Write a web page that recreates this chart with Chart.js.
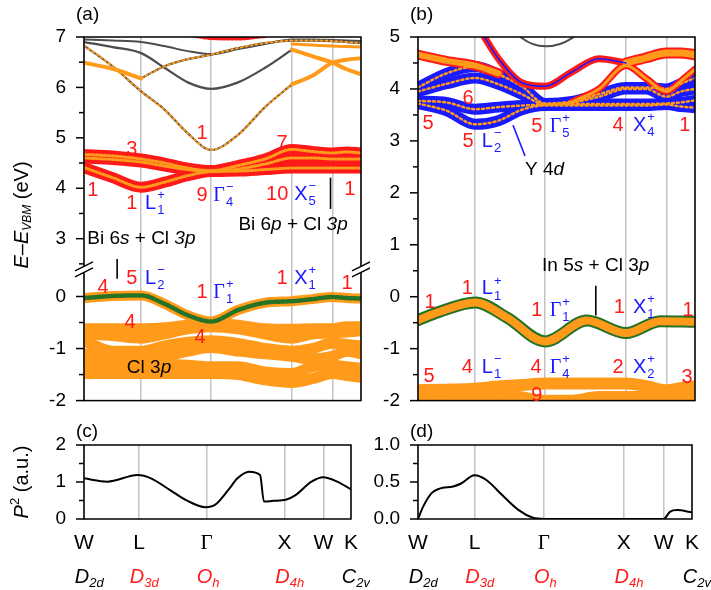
<!DOCTYPE html>
<html>
<head>
<meta charset="utf-8">
<script src="https://cdn.jsdelivr.net/npm/chart.js@4"></script>
<style>
  body { margin: 0; background: #fff; width: 711px; height: 590px; position: relative; overflow: hidden; }
  canvas { position: absolute; }
</style>
</head>
<body>
<canvas id="ca" width="370" height="430" style="left:0;top:0"></canvas>
<canvas id="cb" width="341" height="430" style="left:370px;top:0"></canvas>
<canvas id="cc" width="370" height="175" style="left:0;top:415px"></canvas>
<canvas id="cd" width="341" height="175" style="left:370px;top:415px"></canvas>
<script>
// high-symmetry path W-L-Γ-X-W-K
const kPath = [0, 0.707, 1.573, 2.573, 3.073, 3.427];
const kNames = ["W", "L", "Γ", "X", "W", "K"];
const groupMain = ["D", "D", "O", "D", "C"];
const groupSub = ["2d", "3d", "h", "4h", "2v"];
const groupRed = [false, true, true, true, false];
const groupAt = [0, 1, 2, 3, 5];

// k samples used by the band arrays
const kGrid = [0, 0.354, 0.707, 0.996, 1.284, 1.573, 1.906, 2.240, 2.573, 2.823, 3.073, 3.250, 3.427];

// (a) conduction bands (Bi 6p + Cl 3p)
const aCB1 = [4.41, 4.21, 4.02, 4.12, 4.25, 4.33, 4.34, 4.37, 4.40, 4.40, 4.40, 4.40, 4.40];
const aCB2 = [4.67, 4.64, 4.58, 4.50, 4.40, 4.35, 4.45, 4.58, 4.77, 4.73, 4.70, 4.72, 4.70];
const aCB3 = [4.60, 4.57, 4.52, 4.44, 4.37, 4.33, 4.38, 4.48, 4.60, 4.60, 4.58, 4.58, 4.58];
// (a) higher bands
const aHi1 = [6.83, 6.42, 5.92, 5.56, 5.09, 4.76, 5.06, 5.61, 6.06, 6.23, 6.49, 6.55, 6.58];
const aHi2 = [6.49, 6.37, 6.18, 6.42, 6.56, 6.65, 6.78, 6.88, 6.93, 6.93, 6.92, 6.90, 6.88];
const aHi3 = [6.90, 6.80, 6.68, 6.39, 6.10, 5.97, 6.10, 6.39, 6.75, 6.62, 6.49, 6.36, 6.26];
const aHi4 = [6.95, 6.93, 6.90, 6.82, 6.72, 6.66, 6.76, 6.86, 6.95, 6.95, 6.94, 6.93, 6.92];
const aHi5 = [null, null, null, null, null, null, null, null, 6.86, 6.84, 6.82, 6.81, 6.80];
const aRedTop = [null, null, null, null, 7.05, 6.98, 6.97, 7.02, null, null, null, null, null];
// (a) valence bands
const aVB = [-0.03, 0.01, 0.02, -0.14, -0.36, -0.48, -0.26, -0.12, -0.09, -0.05, -0.01, -0.03, -0.04];
const aCl1 = [-0.62, -0.62, -0.62, -0.60, -0.55, -0.52, -0.55, -0.62, -0.63, -0.62, -0.62, -0.58, -0.58];
const aCl2 = [-0.72, -0.75, -0.80, -0.72, -0.62, -0.58, -0.62, -0.72, -0.80, -0.72, -0.70, -0.68, -0.66];
const aCl3 = [-0.85, -1.05, -1.05, -0.95, -0.88, -0.85, -0.90, -1.00, -1.05, -1.00, -0.90, -0.92, -0.95];
const aCl4 = [-1.10, -1.18, -1.20, -1.15, -1.05, -0.98, -1.05, -1.10, -1.15, -1.20, -1.15, -1.05, -1.10];
const aCl5 = [-1.30, -1.28, -1.28, -1.30, -1.32, -1.35, -1.35, -1.45, -1.48, -1.35, -1.32, -1.35, -1.38];
const aCl6 = [-1.48, -1.48, -1.48, -1.48, -1.48, -1.48, -1.50, -1.60, -1.65, -1.58, -1.48, -1.52, -1.55];

// (b) conduction bands (Y 4d)
const bB1 = [3.72, 3.58, 3.32, 3.39, 3.60, 3.68, 3.68, 3.68, 3.68, 3.68, 3.70, 3.66, 3.64];
const bB2 = [3.77, 3.74, 3.61, 3.65, 3.68, 3.70, 3.71, 3.71, 3.71, 3.71, 3.72, 3.74, 3.78];
const bB3 = [3.95, 4.10, 4.21, 4.09, 3.90, 3.70, 3.74, 3.85, 4.00, 4.00, 3.85, 3.95, 4.00];
const bB4 = [4.03, 4.30, 4.43, 4.28, 4.05, 3.72, 3.76, 3.90, 4.03, 4.03, 4.00, 4.10, 4.21];
const bO1 = [4.66, 4.54, 4.45, 4.30, null, null, null, null, null, null, null, null, null];
const bO2 = [null, null, null, null, null, null, null, null, 4.50, 4.60, 4.69, 4.69, 4.66];
const bO3 = [null, null, null, null, null, null, 3.75, 4.00, 4.45, 4.20, 3.95, 4.15, 4.38];
const bRed = [null, null, 5.30, 4.58, 4.12, 4.05, 4.33, 4.58, 4.50, null, null, null, null];
const bGray = [null, null, null, 5.50, 4.98, 4.82, 4.98, 5.50, null, null, null, null, null];
// (b) valence bands
const bVBk = [0, 0.25, 0.707, 1.1, 1.573, 2.09, 2.573, 3.0, 3.427];
const bVB = [-0.45, -0.30, -0.11, -0.40, -0.86, -0.46, -0.70, -0.47, -0.48];
const bL1 = [-1.80, -1.79, -1.77, -1.73, -1.70, -1.67, -1.67, -1.67, -1.67, -1.72, -1.80, -1.76, -1.73];
const bL2 = [-1.92, -1.92, -1.92, -1.90, -1.96, -2.02, -2.02, -1.95, -1.95, -1.95, -1.92, -1.92, -1.92];

// (c), (d) transition matrix elements P^2
const kC = [0, 0.30, 0.69, 0.86, 1.105, 1.31, 1.56, 1.68, 1.85, 1.97, 2.12, 2.26, 2.31, 2.43, 2.59, 2.71, 2.92, 3.07, 3.25, 3.427];
const pC = [1.10, 1.01, 1.19, 1.10, 0.78, 0.51, 0.32, 0.38, 0.78, 1.10, 1.28, 1.19, 0.47, 0.49, 0.52, 0.64, 1.01, 1.13, 1.01, 0.80];
const kD = [0, 0.066, 0.17, 0.27, 0.44, 0.54, 0.705, 0.85, 1.056, 1.26, 1.43, 1.58, 2.5, 3.07, 3.155, 3.24, 3.427];
const pD = [0, 0.17, 0.35, 0.41, 0.44, 0.48, 0.59, 0.53, 0.32, 0.12, 0.02, 0, 0, 0, 0.10, 0.12, 0.09];

const SANS = '"Liberation Sans", Arial, sans-serif';
const SERIF = '"Liberation Serif", "Times New Roman", serif';
const ORANGE = "#ff9a1a";
const RED = "#ff1a1a";
const BLUE = "#1a1aff";
const GREEN = "#267326";
const GRAY = "#4d4d4d";

function pts(k, v) {
  return k.map((x, i) => ({ x: x, y: v[i] }));
}
function keep(v, from, to) {
  return v.map((y, i) => (i >= from && i <= to ? y : null));
}
function band(k, v, yAxisID, color, width, order, dash) {
  return {
    data: pts(k, v), yAxisID: yAxisID, borderColor: color, borderWidth: width,
    order: order, borderDash: dash || [], pointRadius: 0, fill: false, clip: 0,
    borderCapStyle: "round", borderJoinStyle: "round", cubicInterpolationMode: "monotone"
  };
}
// thick outline band with a thinner core of another colour
function fat(k, v, ax, outer, wo, inner, wi, order, dash) {
  return [band(k, v, ax, outer, wo, order), band(k, v, ax, inner, wi, order - 5, dash)];
}
function dotted(k, v, ax) {
  return [band(k, v, ax, GRAY, 2.2, 14), band(k, v, ax, ORANGE, 2, 13, [2, 3])];
}

// text helpers
function rich(ctx, x, y, parts, size, color, measureOnly) {
  let cx = x;
  ctx.fillStyle = color;
  ctx.textBaseline = "middle";
  ctx.textAlign = "left";
  for (const p of parts) {
    const sc = p[2] || 1, dy = p[3] || 0;
    ctx.font = (p[1] ? "italic " : "") + Math.round(size * sc) + "px " + (p[4] ? SERIF : SANS);
    if (!measureOnly) ctx.fillText(p[0], cx, y + dy);
    cx += ctx.measureText(p[0]).width;
  }
  return cx - x;
}
function irrep(ctx, x, y, b, sub, sup) {
  ctx.fillStyle = BLUE;
  ctx.textBaseline = "middle";
  ctx.textAlign = "left";
  ctx.font = "20px " + (b === "Γ" ? SERIF : SANS);
  ctx.fillText(b, x, y);
  const w = ctx.measureText(b).width + 1;
  ctx.font = "13px " + SANS;
  ctx.fillText(sup, x + w, y - 8);
  ctx.fillText(sub, x + w, y + 7);
}
function seg(ctx, x1, y1, x2, y2, color, w) {
  ctx.strokeStyle = color;
  ctx.lineWidth = w;
  ctx.beginPath();
  ctx.moveTo(x1, y1);
  ctx.lineTo(x2, y2);
  ctx.stroke();
}

const deco = {
  id: "deco",
  afterDraw(chart, args, o) {
    const ctx = chart.ctx, a = chart.chartArea, xs = chart.scales.x;
    ctx.save();
    // axis ticks, long on the labelled step, short in between
    for (const id of o.yIds) {
      const s = chart.scales[id];
      s.ticks.forEach(t => {
        const y = s.getPixelForValue(t.value);
        if (y < s.top - 0.5 || y > s.bottom + 0.5) return;
        const r = t.value / o.major;
        const major = Math.abs(r - Math.round(r)) < 1e-6;
        seg(ctx, a.left - (major ? 8 : 5), y, a.left, y, "#000", 1.5);
      });
    }
    ctx.strokeStyle = "#000";
    ctx.lineWidth = 1.5;
    ctx.strokeRect(a.left, a.top, a.right - a.left, a.bottom - a.top);
    if (o.breakAt) {
      const y = chart.scales[o.breakAt].bottom;
      [a.left, a.right].forEach(x => {
        ctx.fillStyle = "#fff";
        ctx.beginPath();
        ctx.moveTo(x - 9, y + 2); ctx.lineTo(x + 9, y - 7);
        ctx.lineTo(x + 9, y - 1); ctx.lineTo(x - 9, y + 8);
        ctx.closePath();
        ctx.fill();
        seg(ctx, x - 9, y + 2, x + 9, y - 7, "#000", 1.3);
        seg(ctx, x - 9, y + 8, x + 9, y - 1, "#000", 1.3);
      });
    }
    const px = k => xs.getPixelForValue(k);
    const py = (ax, e) => chart.scales[ax || "y"].getPixelForValue(e);
    (o.lines || []).forEach(l => seg(ctx, px(l[0]), py(l[4], l[1]), px(l[2]), py(l[4], l[3]), l[5], 1.6));
    (o.nums || []).forEach(n => {
      ctx.fillStyle = RED;
      ctx.font = "20px " + SANS;
      ctx.textAlign = "center";
      ctx.textBaseline = "middle";
      ctx.fillText(n[2], px(n[0]), py(n[3], n[1]));
    });
    (o.irreps || []).forEach(r => irrep(ctx, px(r[0]), py(r[5], r[1]), r[2], r[3], r[4]));
    (o.notes || []).forEach(n => rich(ctx, px(n.k), py(n.ax, n.E), n.parts, 19, "#000"));
    // panel letter
    rich(ctx, a.left - 8, a.top - o.panelDy, [[o.panel]], 19, "#000");
    // rotated axis title
    if (o.yTitle) {
      ctx.save();
      ctx.translate(o.yTitle.x, o.yTitle.y);
      ctx.rotate(-Math.PI / 2);
      const w = rich(ctx, 0, 0, o.yTitle.parts, 20, "#000", true);
      rich(ctx, -w / 2, 0, o.yTitle.parts, 20, "#000");
      ctx.restore();
    }
    // point groups under the k labels
    if (o.groups) {
      groupAt.forEach((idx, i) => {
        const x = px(kPath[idx]);
        const col = groupRed[i] ? RED : "#000";
        ctx.font = "italic 20px " + SANS;
        const mw = ctx.measureText(groupMain[i]).width;
        rich(ctx, x - mw / 2 - 2, o.groups, [[groupMain[i], true], [groupSub[i], true, 0.65, 6]], 20, col);
      });
    }
    ctx.restore();
  }
};

function xScale(labels, h) {
  return {
    type: "linear", min: 0, max: 3.427,
    afterBuildTicks: s => { s.ticks = kPath.map(v => ({ value: v })); },
    afterFit: s => { s.height = h; },
    grid: { color: "#c4c4c4", lineWidth: 1.5, drawTicks: false },
    border: { display: false },
    ticks: {
      display: labels, autoSkip: false, maxRotation: 0, padding: 12, color: "#000",
      font: c => ({ family: c.index === 2 ? SERIF : SANS, size: 21 }),
      callback: (v, i) => kNames[i]
    }
  };
}
function yScale(min, max, step, w, fmt, extra) {
  return Object.assign({
    type: "linear", position: "left", min: min, max: max,
    afterFit: s => { s.width = w; },
    grid: { display: false, drawTicks: false },
    border: { display: false },
    ticks: {
      stepSize: step, includeBounds: false, autoSkip: false, padding: 18, color: "#000",
      font: { family: SANS, size: 19 }, callback: fmt
    }
  }, extra || {});
}
const intFmt = v => (Number.isInteger(v) ? String(v) : "");
const halfFmt = v => (Math.abs(v * 2 - Math.round(v * 2)) < 1e-9 ? v.toFixed(1) : "");

function opts(padding, scales, d) {
  return {
    responsive: false, animation: false, devicePixelRatio: 1,
    layout: { padding: padding },
    plugins: { legend: { display: false }, tooltip: { enabled: false }, deco: d },
    scales: scales
  };
}

// ---- panel (a)
const dsA = [
  ...[aCB1, aCB2, aCB3].flatMap(v => fat(kGrid, v, "yUp", RED, 11, ORANGE, 3, 30, [2, 2])),
  ...dotted(kGrid, keep(aHi1, 0, 8), "yUp"),
  band(kGrid, keep(aHi1, 8, 12), "yUp", ORANGE, 4, 12),
  band(kGrid, keep(aHi2, 0, 2), "yUp", ORANGE, 4, 12),
  ...dotted(kGrid, keep(aHi2, 2, 12), "yUp"),
  band(kGrid, keep(aHi3, 0, 8), "yUp", GRAY, 2.2, 14),
  band(kGrid, keep(aHi3, 8, 12), "yUp", ORANGE, 4, 12),
  band(kGrid, aHi4, "yUp", GRAY, 2, 14),
  band(kGrid, aHi5, "yUp", ORANGE, 3, 12),
  band(kGrid, aRedTop, "yUp", RED, 4, 11, [2, 2]),
  ...[aCl1, aCl2, aCl3, aCl4, aCl5, aCl6].map(v => band(kGrid, v, "yLow", ORANGE, 11, 30)),
  band(kGrid, aVB, "yLow", ORANGE, 10, 29),
  band(kGrid, aVB, "yLow", GREEN, 4.5, 5, [2.5, 2])
];
new Chart(document.getElementById("ca"), {
  type: "line",
  data: { datasets: dsA },
  plugins: [deco],
  options: opts({ left: 40, top: 37, right: 9, bottom: 23 }, {
    x: xScale(false, 0),
    yLow: yScale(-2, 0.53, 0.5, 44, intFmt, { stack: "a", stackWeight: 134 }),
    yUp: yScale(2.4, 7, 0.5, 44, intFmt, { stack: "a", stackWeight: 236 })
  }, {
    yIds: ["yUp", "yLow"], major: 1, breakAt: "yUp", panel: "(a)", panelDy: 22,
    yTitle: { x: 22, y: 215, parts: [["E", true], ["–"], ["E", true], ["VBM", true, 0.62, 6], [" (eV)"]] },
    nums: [
      [0.11, 3.96, "1", "yUp"], [0.59, 4.76, "3", "yUp"], [0.59, 3.69, "1", "yUp"], [1.46, 5.09, "1", "yUp"],
      [1.46, 3.86, "9", "yUp"], [2.45, 4.89, "7", "yUp"], [2.39, 3.88, "10", "yUp"], [3.29, 3.98, "1", "yUp"],
      [0.235, 0.17, "4", "yLow"], [0.59, 0.34, "5", "yLow"], [1.46, 0.08, "1", "yLow"], [2.45, 0.34, "1", "yLow"],
      [3.255, 0.25, "1", "yLow"], [0.57, -0.49, "4", "yLow"], [1.436, -0.79, "4", "yLow"]
    ],
    irreps: [
      [0.755, 3.69, "L", "1", "+", "yUp"], [1.60, 3.86, "Γ", "4", "−", "yUp"], [2.60, 3.88, "X", "5", "−", "yUp"],
      [0.755, 0.34, "L", "2", "−", "yLow"], [1.60, 0.08, "Γ", "1", "+", "yLow"], [2.60, 0.34, "X", "1", "+", "yLow"]
    ],
    notes: [
      { k: 1.91, E: 3.28, ax: "yUp", parts: [["Bi 6"], ["p", true], [" + Cl "], ["3p", true]] },
      { k: 0.04, E: 3.0, ax: "yUp", parts: [["Bi 6"], ["s", true], [" + Cl "], ["3p", true]] },
      { k: 0.53, E: -1.36, ax: "yLow", parts: [["Cl 3"], ["p", true]] }
    ],
    lines: [[3.05, 4.21, 3.05, 3.59, "yUp", "#000"], [0.41, 0.72, 0.41, 0.34, "yLow", "#000"]]
  })
});

// ---- panel (b)
const dsB = [
  band(kGrid, bGray, "y", GRAY, 2, 40),
  ...[bB1, bB2, bB3, bB4].flatMap(v => fat(kGrid, v, "y", BLUE, 11, ORANGE, 2.5, 30, [2, 3])),
  ...fat(kGrid, bO1, "y", RED, 10, ORANGE, 6, 28),
  ...fat(kGrid, bO2, "y", RED, 11, ORANGE, 7, 28),
  ...fat(kGrid, bO3, "y", RED, 7, ORANGE, 3, 26),
  ...fat(kGrid, bRed, "y", RED, 7, BLUE, 1.5, 24),
  ...fat(bVBk, bVB, "y", GREEN, 12, ORANGE, 8, 30),
  band(kGrid, bL1, "y", ORANGE, 12, 30),
  band(kGrid, bL2, "y", ORANGE, 14, 30)
];
new Chart(document.getElementById("cb"), {
  type: "line",
  data: { datasets: dsB },
  plugins: [deco],
  options: opts({ left: 0, top: 37, right: 16, bottom: 23 }, {
    x: xScale(false, 0),
    y: yScale(-2, 5, 0.5, 48, intFmt)
  }, {
    yIds: ["y"], major: 1, panel: "(b)", panelDy: 22,
    nums: [
      [0.62, 3.81, "6"], [0.124, 3.33, "5"], [0.62, 2.99, "5"], [1.47, 3.28, "5"], [2.475, 3.30, "4"], [3.30, 3.30, "1"],
      [0.15, -0.11, "1"], [0.61, 0.15, "1"], [1.47, -0.27, "1"], [2.49, -0.21, "1"], [3.34, -0.27, "1"],
      [0.136, -1.53, "5"], [0.61, -1.36, "4"], [1.46, -1.36, "4"], [2.475, -1.36, "2"], [3.33, -1.55, "3"], [1.47, -1.91, "9"]
    ],
    irreps: [
      [0.79, 2.99, "L", "2", "−"], [1.63, 3.28, "Γ", "5", "+"], [2.66, 3.30, "X", "4", "+"],
      [0.79, 0.15, "L", "1", "+"], [1.63, -0.27, "Γ", "1", "+"], [2.66, -0.21, "X", "1", "+"],
      [0.79, -1.36, "L", "1", "−"], [1.63, -1.36, "Γ", "4", "+"], [2.66, -1.36, "X", "2", "+"]
    ],
    notes: [
      { k: 1.324, E: 2.44, parts: [["Y 4"], ["d", true]] },
      { k: 1.535, E: 0.59, parts: [["In 5"], ["s", true], [" + Cl "], ["3"], ["p", true]] }
    ],
    lines: [[1.176, 3.30, 1.324, 2.71, "y", BLUE], [2.20, 0.21, 2.20, -0.36, "y", "#000"]]
  })
});

// ---- panel (c)
new Chart(document.getElementById("cc"), {
  type: "line",
  data: { datasets: [band(kC, pC, "y", "#000", 2, 1)] },
  plugins: [deco],
  options: opts({ left: 40, top: 30, right: 9, bottom: 0 }, {
    x: xScale(true, 71),
    y: yScale(0, 2, 0.5, 44, intFmt)
  }, {
    yIds: ["y"], major: 1, panel: "(c)", panelDy: 13, groups: 162,
    yTitle: { x: 22, y: 67, parts: [["P", true], ["2", false, 0.65, -7], [" (a.u.)"]] }
  })
});

// ---- panel (d)
new Chart(document.getElementById("cd"), {
  type: "line",
  data: { datasets: [band(kD, pD, "y", "#000", 2, 1)] },
  plugins: [deco],
  options: opts({ left: 0, top: 30, right: 16, bottom: 0 }, {
    x: xScale(true, 71),
    y: yScale(0, 1, 0.25, 48, halfFmt)
  }, {
    yIds: ["y"], major: 0.5, panel: "(d)", panelDy: 13, groups: 162
  })
});
</script>
</body>
</html>
